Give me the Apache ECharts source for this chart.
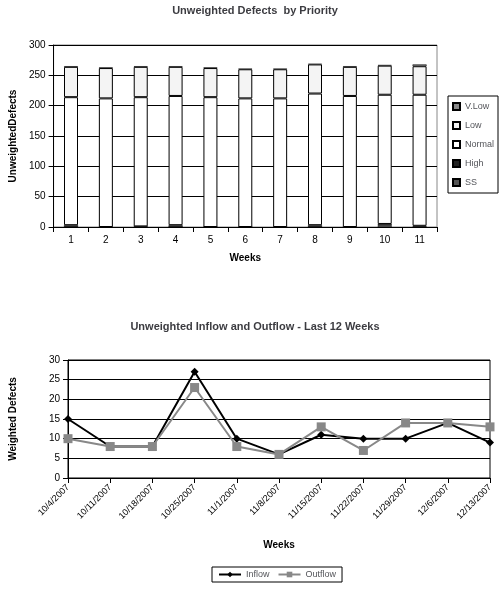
<!DOCTYPE html><html><head><meta charset="utf-8"><script src="https://cdn.jsdelivr.net/npm/echarts@6/dist/echarts.min.js"></script></head><body style="margin:0;background:#fff"><div id="c" style="width:500px;height:590px"></div><script>
const weeks=['1','2','3','4','5','6','7','8','9','10','11'];
const ss=[0,0,0,0,0,0,0,0,0,3,1];
const high=[3,0,1,3,0,0,0,3,0,2,1];
const normal=[211,212,213,213,214,212,212,217,216,213,216];
const low=[50,50,50,48,48,48,48,48,48,48,47];
const vlow=[1,1,1,1,1,1,1,1,1,1,3];
const dates=['10/4/2007','10/11/2007','10/18/2007','10/25/2007','11/1/2007','11/8/2007','11/15/2007','11/22/2007','11/29/2007','12/6/2007','12/13/2007'];
const inflow=[15,8,8,27,10,6,11,10,10,14,9];
const outflow=[10,8,8,23,8,6,13,7,14,14,13];
const F='Liberation Sans';
const ax={axisLine:{show:true,lineStyle:{color:'#000'}},axisTick:{show:true,lineStyle:{color:'#000'}},axisLabel:{color:'#000',fontFamily:F,fontSize:10},splitLine:{lineStyle:{color:'#000',width:1}}};
const bar=(n,d,c)=>({name:n,type:'bar',stack:'a',data:d,barWidth:14,xAxisIndex:0,yAxisIndex:0,itemStyle:{color:c,borderColor:'#000',borderWidth:d===low||d===normal?1:0.5}});
echarts.init(document.getElementById('c')).setOption({
animation:false,
title:[{text:'Unweighted Defects  by Priority',left:250,top:0,textAlign:'center',textStyle:{fontFamily:F,fontSize:11,fontWeight:'bold'}},
{text:'Unweighted Inflow and Outflow - Last 12 Weeks',left:250,top:316,textAlign:'center',textStyle:{fontFamily:F,fontSize:11,fontWeight:'bold'}}],
legend:[{data:['V.Low','Low','Normal','High','SS'],orient:'vertical',left:448,top:96,icon:'rect',itemWidth:7,itemHeight:7,itemGap:10,borderColor:'#000',borderWidth:1,padding:[6,4],textStyle:{fontFamily:F,fontSize:9}},
{data:['Inflow','Outflow'],left:212,top:567,borderColor:'#000',borderWidth:1,padding:[3,6],itemWidth:22,itemHeight:7,textStyle:{fontFamily:F,fontSize:9}}],
grid:[{left:45,right:63,top:45,height:182,show:true,borderColor:'#888',borderWidth:1},{left:68,right:10,top:360,height:118,show:true,borderColor:'#000',borderWidth:1}],
xAxis:[{type:'category',data:weeks,gridIndex:0,name:'Weeks',nameLocation:'middle',nameGap:26,nameTextStyle:{fontFamily:F,fontWeight:'bold',fontSize:10},...ax},
{type:'category',data:dates,gridIndex:1,boundaryGap:false,name:'Weeks',nameLocation:'middle',nameGap:62,nameTextStyle:{fontFamily:F,fontWeight:'bold',fontSize:10},...ax,axisLabel:{color:'#000',fontFamily:F,fontSize:9,rotate:45,interval:0}}],
yAxis:[{type:'value',gridIndex:0,min:0,max:300,interval:50,name:'UnweightedDefects',nameLocation:'middle',nameGap:32,nameTextStyle:{fontFamily:F,fontWeight:'bold',fontSize:10},...ax},
{type:'value',gridIndex:1,min:0,max:30,interval:5,name:'Weighted Defects',nameLocation:'middle',nameGap:50,nameTextStyle:{fontFamily:F,fontWeight:'bold',fontSize:10},...ax}],
series:[bar('SS',ss,'#555'),bar('High',high,'#222'),bar('Normal',normal,'#fff'),bar('Low',low,'#f4f4f4'),bar('V.Low',vlow,'#888'),
{name:'Inflow',type:'line',xAxisIndex:1,yAxisIndex:1,data:inflow,symbol:'diamond',symbolSize:8,lineStyle:{color:'#000',width:2},itemStyle:{color:'#000'}},
{name:'Outflow',type:'line',xAxisIndex:1,yAxisIndex:1,data:outflow,symbol:'rect',symbolSize:9,lineStyle:{color:'#888',width:2},itemStyle:{color:'#888'}}]
});
</script></body></html>
